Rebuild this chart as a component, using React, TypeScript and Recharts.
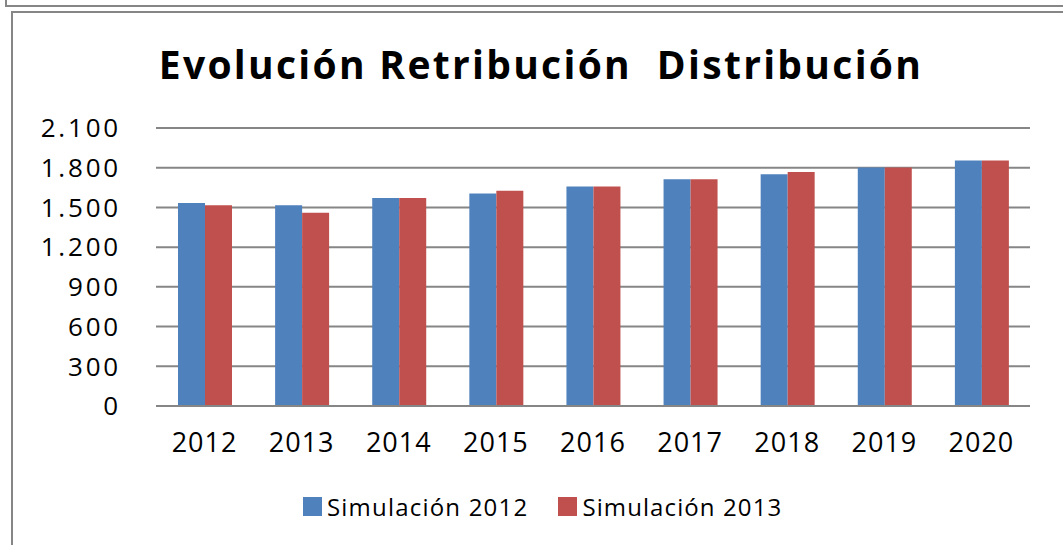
import React from "react";
import { BarChart, Bar, XAxis, YAxis, CartesianGrid } from "recharts";

const categories = ["2012", "2013", "2014", "2015", "2016", "2017", "2018", "2019", "2020"];
const sim2012 = [1534, 1516, 1571, 1606, 1659, 1712, 1750, 1802, 1855];
const sim2013 = [1516, 1460, 1571, 1626, 1659, 1712, 1767, 1802, 1855];
const yTicks = [0, 300, 600, 900, 1200, 1500, 1800, 2100];
const seriesNames = ["Simulación 2012", "Simulación 2013"];
const title = "Evolución Retribución  Distribución";

const data = categories.map((c, i) => ({ year: c, s2012: sim2012[i], s2013: sim2013[i] }));

const BLUE = "#4F81BD";
const RED = "#C0504D";
const GRID = "#868686";
const FONT = "'Open Sans', sans-serif";

const fmt = (v: number) => v.toString().replace(/\B(?=(\d{3})+(?!\d))/g, ".");

export default function App() {
  return (
    <div style={{ position: "absolute", left: 0, top: 0, width: 1063, height: 545, overflow: "hidden", background: "#fff" }}>
      <div style={{ position: "absolute", left: 5, top: -12, width: 1100, height: 15, border: `2px solid ${GRID}` }} />
      <div style={{ position: "absolute", left: 11, top: 11, width: 1100, height: 600, border: `2px solid ${GRID}` }} />
      <div
        style={{
          position: "absolute",
          left: 0,
          top: 37,
          width: 1082,
          textAlign: "center",
          fontFamily: FONT,
          fontWeight: 700,
          fontSize: 39,
          whiteSpace: "pre",
          color: "#000",
          letterSpacing: 2.3,
        }}
      >
        {title}
      </div>
      <div style={{ position: "absolute", left: 0, top: 0 }}>
        <BarChart
          width={1063}
          height={545}
          data={data}
          margin={{ top: 128, right: 33, bottom: 109, left: 0 }}
          barGap={0}
          barSize={27}
        >
          <CartesianGrid vertical={false} stroke={GRID} strokeWidth={2} />
          <YAxis
            width={156}
            domain={[0, 2100]}
            ticks={yTicks}
            tickFormatter={fmt}
            axisLine={false}
            tickLine={false}
            tickSize={0}
            tickMargin={35}
            tick={{ fill: "#000", fontFamily: FONT, fontSize: 26, letterSpacing: 2.8 }}
          />
          <XAxis
            dataKey="year"
            height={30}
            axisLine={{ stroke: GRID, strokeWidth: 2 }}
            tickLine={false}
            tickSize={0}
            tickMargin={27}
            tick={{ fill: "#000", fontFamily: FONT, fontSize: 27, letterSpacing: 1 }}
          />
          <Bar dataKey="s2012" name={seriesNames[0]} fill={BLUE} isAnimationActive={false} />
          <Bar dataKey="s2013" name={seriesNames[1]} fill={RED} isAnimationActive={false} />
        </BarChart>
      </div>
      <div
        style={{
          position: "absolute",
          left: 303,
          top: 490,
          display: "flex",
          alignItems: "center",
          fontFamily: FONT,
          fontSize: 24,
          color: "#000",
        }}
      >
        <span style={{ display: "inline-block", width: 19, height: 19, background: BLUE, marginRight: 5 }} />
        <span style={{ letterSpacing: 1.2, marginRight: 30 }}>{seriesNames[0]}</span>
        <span style={{ display: "inline-block", width: 19, height: 19, background: RED, marginRight: 5 }} />
        <span style={{ letterSpacing: 1.1 }}>{seriesNames[1]}</span>
      </div>
    </div>
  );
}
